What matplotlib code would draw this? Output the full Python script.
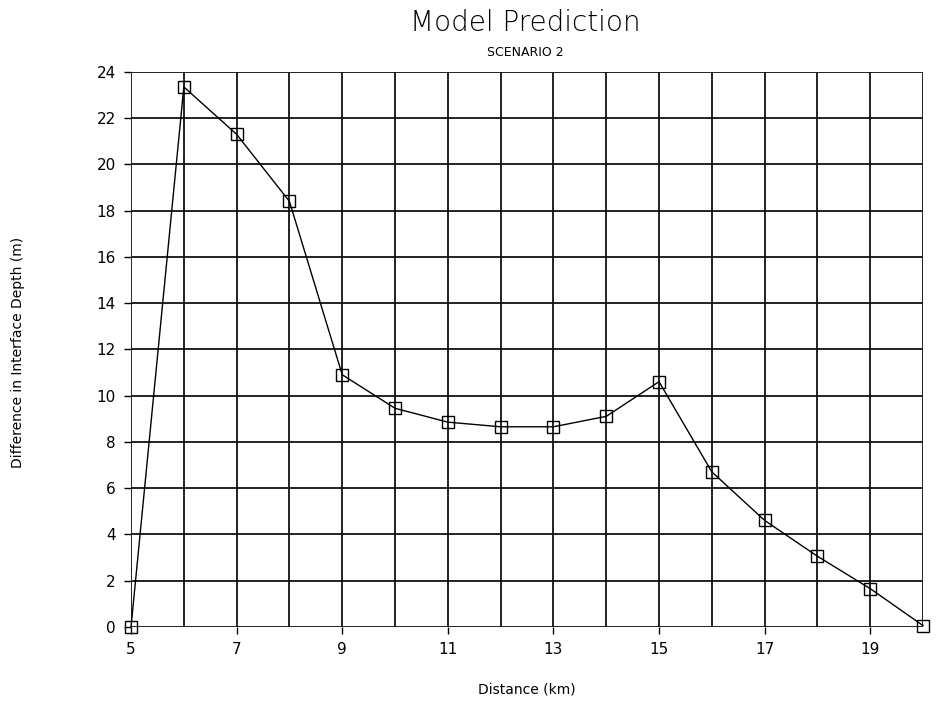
import matplotlib
matplotlib.use("Agg")
import matplotlib.pyplot as plt
import numpy as np

# distance along profile (km) and depth difference (m)
distance = [5, 6, 7, 8, 9, 10, 11, 12, 13, 14, 15, 16, 17, 18, 19, 20]
depth_diff = [0.0, 23.35, 21.3, 18.4, 10.9, 9.45, 8.85, 8.65, 8.65, 9.1,
              10.6, 6.7, 4.6, 3.05, 1.65, 0.05]

x_ticks = [5, 7, 9, 11, 13, 15, 17, 19]
y_ticks = list(range(0, 25, 2))

fig = plt.figure(figsize=(9.38, 7.05), dpi=100)
ax = fig.add_axes([0.1397, 0.111, 0.8443, 0.787])

# full 1 km grid
for xv in range(5, 21):
    ax.axvline(xv, color="#111111", lw=1.3, zorder=1)
for yv in y_ticks:
    ax.axhline(yv, color="#111111", lw=1.3, zorder=1)

ax.plot(distance, depth_diff, color="black", lw=1.0, marker="s", ms=8,
        mfc="none", mec="black", mew=1.0, zorder=3, clip_on=False)

ax.set_xlim(5, 20)
ax.set_ylim(0, 24)
ax.set_xticks(x_ticks)
ax.set_yticks(y_ticks)
ax.tick_params(direction="out", length=5, width=1, labelsize=11, pad=6)
for s in ax.spines.values():
    s.set_visible(False)

fig.text(0.56, 0.968, "Model Prediction", ha="center", va="center",
         fontsize=20, fontweight="light")
fig.text(0.56, 0.926, "SCENARIO 2", ha="center", va="center", fontsize=9)
ax.set_xlabel("Distance (km)", fontsize=10, labelpad=18)
fig.text(0.019, 0.5, "Difference in Interface Depth (m)", rotation=90,
         ha="center", va="center", fontsize=10)

fig.savefig("out.png", dpi=100)
